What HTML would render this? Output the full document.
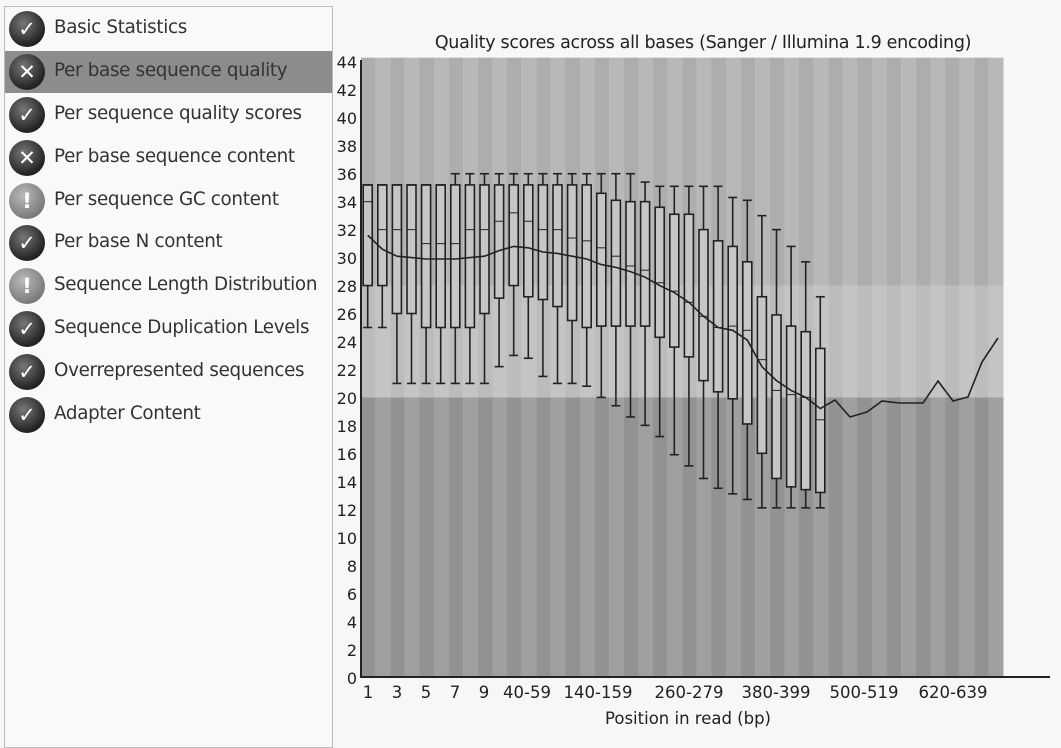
<!DOCTYPE html>
<html><head><meta charset="utf-8">
<style>
html,body{margin:0;padding:0;background:#f7f7f7;width:1061px;height:735px;overflow:hidden;font-family:"DejaVu Sans","Liberation Sans",sans-serif;}
#side{position:absolute;left:4px;top:6px;width:327px;height:740px;border:1px solid #bdbdbd;background:#f9f9f9;}
.it{position:absolute;left:0;width:327px;height:42px;}
.it span{position:absolute;left:49px;top:9px;font-size:18.3px;color:#333;letter-spacing:-0.3px;white-space:nowrap;}
.ic{position:absolute;left:4px;top:3px;width:36px;height:36px;border-radius:50%;background:radial-gradient(circle at 40% 35%,#777,#222 70%);color:#fff;font-weight:bold;font-size:21px;text-align:center;line-height:36px;}
.ic.w{background:radial-gradient(circle at 40% 35%,#bbb,#777 75%);}
.sel{background:#8c8c8c;}
svg{position:absolute;left:0;top:0;}
</style></head><body>
<div id="side">
<div class="it" style="top:1px"><div class="ic">✓</div><span>Basic Statistics</span></div>
<div class="it sel" style="top:44px"><div class="ic">✕</div><span>Per base sequence quality</span></div>
<div class="it" style="top:87px"><div class="ic">✓</div><span>Per sequence quality scores</span></div>
<div class="it" style="top:130px"><div class="ic">✕</div><span>Per base sequence content</span></div>
<div class="it" style="top:173px"><div class="ic w">!</div><span>Per sequence GC content</span></div>
<div class="it" style="top:215px"><div class="ic">✓</div><span>Per base N content</span></div>
<div class="it" style="top:258px"><div class="ic w">!</div><span>Sequence Length Distribution</span></div>
<div class="it" style="top:301px"><div class="ic">✓</div><span>Sequence Duplication Levels</span></div>
<div class="it" style="top:344px"><div class="ic">✓</div><span>Overrepresented sequences</span></div>
<div class="it" style="top:387px"><div class="ic">✓</div><span>Adapter Content</span></div>
</div>
<svg id="c" width="1061" height="735" xmlns="http://www.w3.org/2000/svg" font-family="DejaVu Sans, Liberation Sans, sans-serif">
<text x="703" y="48" font-size="17.5" text-anchor="middle" fill="#222" letter-spacing="-0.3">Quality scores across all bases (Sanger / Illumina 1.9 encoding)</text>
<g id="bg"></g>
<g id="yl" font-size="16" fill="#222" text-anchor="end">
<text x="357" y="68">44</text><text x="357" y="96">42</text><text x="357" y="124">40</text><text x="357" y="152">38</text><text x="357" y="180">36</text><text x="357" y="208">34</text><text x="357" y="236">32</text><text x="357" y="264">30</text><text x="357" y="292">28</text><text x="357" y="320">26</text><text x="357" y="348">24</text><text x="357" y="376">22</text><text x="357" y="404">20</text><text x="357" y="432">18</text><text x="357" y="460">16</text><text x="357" y="488">14</text><text x="357" y="516">12</text><text x="357" y="544">10</text><text x="357" y="572">8</text><text x="357" y="600">6</text><text x="357" y="628">4</text><text x="357" y="656">2</text><text x="357" y="684">0</text>
</g>
<g font-size="16.5" fill="#222" text-anchor="middle">
<text x="368" y="698">1</text><text x="397" y="698">3</text><text x="426" y="698">5</text><text x="455" y="698">7</text><text x="484" y="698">9</text>
<text x="527" y="698">40-59</text><text x="598" y="698">140-159</text><text x="689" y="698">260-279</text><text x="776" y="698">380-399</text><text x="864" y="698">500-519</text><text x="953" y="698">620-639</text>
<text x="688" y="724">Position in read (bp)</text>
</g>
<g id="bx" stroke="#222" stroke-width="1.6" fill="none"></g>
<line x1="361" y1="60" x2="361" y2="678" stroke="#222" stroke-width="2"/>
<line x1="360" y1="677" x2="1050" y2="677" stroke="#222" stroke-width="2"/>
</svg>
<script>
var Y=function(q){return 677-13.98*q};
var ns="http://www.w3.org/2000/svg";
function el(p,t,a){var e=document.createElementNS(ns,t);for(var k in a)e.setAttribute(k,a[k]);p.appendChild(e);return e;}
var bg=document.getElementById('bg');
for(var i=0;i<44;i++){var x=361+14.6*i,o=i%2;
el(bg,'rect',{x:x,y:Y(44.3),width:14.7,height:Y(28)-Y(44.3),fill:o?'#b8b8b8':'#adadad'});
el(bg,'rect',{x:x,y:Y(28),width:14.7,height:Y(20)-Y(28),fill:o?'#c4c4c4':'#bcbcbc'});
el(bg,'rect',{x:x,y:Y(20),width:14.7,height:Y(0)-Y(20),fill:o?'#a0a0a0':'#929292'});}
var D=[[35.2,35.2,34,28,25],[35.2,35.2,32,28,25],[35.2,35.2,32,26,21],[35.2,35.2,32,26,21],[35.2,35.2,31,25,21],[35.2,35.2,31,25,21],
[36,35.2,31,25,21],[36,35.2,32,25,21],[36,35.2,32,26,21],[36,35.2,32.6,27.1,22.2],[36,35.2,33.2,28,23],[36,35.2,32.6,27.2,22.8],
[36,35.2,32,27,21.5],[36,35.2,32,26.5,21],[36,35.2,31.4,25.5,21],[36,35.2,31.2,25,20.8],[36,34.6,30.7,25.1,20],[36,34.1,30.1,25.1,19.4],
[36,34,29.4,25.1,18.6],[35.4,34,29.1,25.1,18],[35.1,33.6,28.2,24.3,17.2],[35.1,33.1,27.6,23.6,15.9],[35.1,33.1,26.8,22.9,15.1],[35.1,32,25.8,21.2,14.2],
[35.1,31.2,25,20.4,13.5],[34.3,30.8,25.1,19.9,13.1],[34.1,29.7,24.8,18.1,12.7],[33,27.2,22.7,16,12.1],[32,25.9,20.5,14.2,12.1],[30.8,25.1,20.2,13.6,12.1],[29.7,24.7,20,13.4,12.1],[27.2,23.5,18.4,13.2,12.1]];
var bx=document.getElementById('bx');
D.forEach(function(d,i){var c=367.7+14.6*i;
el(bx,'rect',{x:c-4.5,y:Y(d[1]),width:9,height:Y(d[3])-Y(d[1]),fill:'#c6c6c6'});
el(bx,'line',{x1:c-4.5,x2:c+4.5,y1:Y(d[2]),y2:Y(d[2]),'stroke-width':1});
el(bx,'line',{x1:c,x2:c,y1:Y(d[0]),y2:Y(d[1])});el(bx,'line',{x1:c,x2:c,y1:Y(d[3]),y2:Y(d[4])});
el(bx,'line',{x1:c-4.5,x2:c+4.5,y1:Y(d[0]),y2:Y(d[0])});el(bx,'line',{x1:c-4.5,x2:c+4.5,y1:Y(d[4]),y2:Y(d[4])});});
var M=[31.6,30.6,30.1,30,29.9,29.9,29.9,30,30.1,30.5,30.8,30.7,30.4,30.3,30.1,29.9,29.5,29.3,29,28.6,28,27.5,26.8,25.8,25,24.8,24.1,22.2,21.2,20.5,20,19.2];
var pts=M.map(function(m,i){return (367.7+14.6*i)+','+Y(m)}).join(' ');
pts+=' 835,400 850,417 867,412 882,401 900,403 923,403 938,381 953,401 968,397 982,362 998,338';
el(bx,'polyline',{points:pts,'stroke-width':1.6});
</script>
</body></html>
